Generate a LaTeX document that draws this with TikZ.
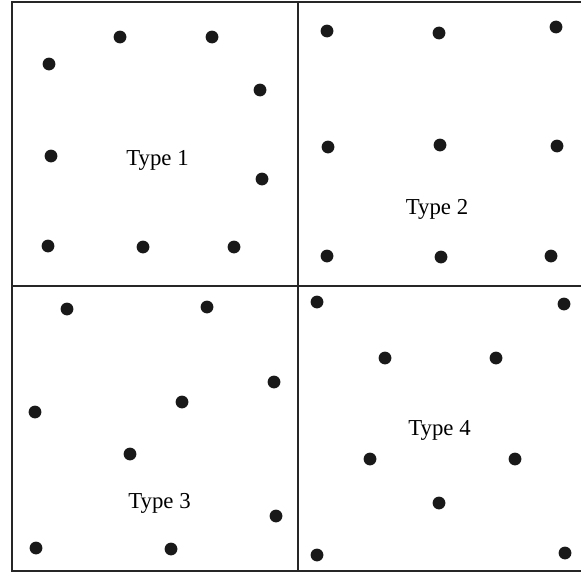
\documentclass[tikz,border=0pt]{standalone}
\usepackage{fontspec}
\setmainfont{Liberation Serif}
\usepackage{tikz}
\usetikzlibrary{calc, positioning}

\begin{document}
\begin{tikzpicture}[x=0.5pt, y=-0.5pt, line width=1pt,
    dot/.style={fill=black!90, draw=none, circle, minimum size=6.4pt, inner sep=0pt},
    lbl/.style={anchor=base, font=\fontsize{11.4}{13}\selectfont}]
    \useasboundingbox (0,0) rectangle (581,573);
    % Khung va duong chia
    \draw[black!85] (12,1.5) rectangle (584,571);
    \draw[black!85] (298,1.5) -- (298,571);
    \draw[black!85] (12,286) -- (584,286);

    % Type 1
    \foreach \p in {(120,37),(212,37),(49,64),(260,90),(51,156),(262,179),(48,246),(143,247),(234,247)}
        \node[dot] at \p {};
    \node[lbl] (t1) at (157.5,165) {Type 1};

    % Type 2
    \foreach \p in {(327,31),(439,33),(556,27),(328,147),(440,145),(557,146),(327,256),(441,257),(551,256)}
        \node[dot] at \p {};
    \node[lbl] (t2) at (437,214) {Type 2};

    % Type 3
    \foreach \p in {(67,309),(207,307),(274,382),(35,412),(182,402),(130,454),(276,516),(36,548),(171,549)}
        \node[dot] at \p {};
    \node[lbl] (t3) at (159.5,508) {Type 3};

    % Type 4
    \foreach \p in {(317,302),(564,304),(385,358),(496,358),(370,459),(515,459),(439,503),(317,555),(565,553)}
        \node[dot] at \p {};
    \node[lbl] (t4) at (439.5,435) {Type 4};
\end{tikzpicture}
\end{document}
